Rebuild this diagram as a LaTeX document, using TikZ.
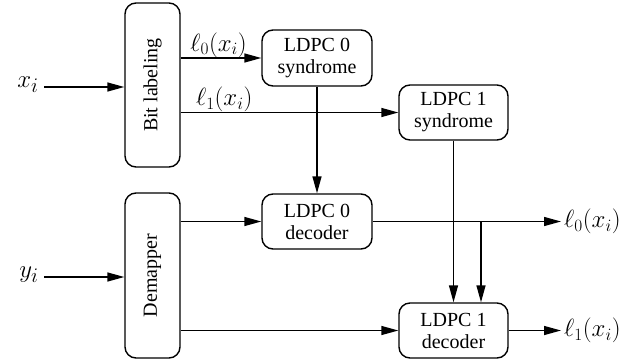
\documentclass[tikz,border=0pt]{standalone}
\usepackage{fontspec}
\setmainfont{Liberation Serif}
\usetikzlibrary{arrows.meta}
\begin{document}
\begin{tikzpicture}[x=1pt,y=-1pt,
  blk/.style={draw,line width=1.4pt,rounded corners=11pt,align=center,inner sep=0pt,font=\fontsize{20}{22}\selectfont},
  arr/.style={line width=1.4pt,-{Triangle[length=17pt,width=9pt]}},
  lbl/.style={font=\fontsize{24}{26}\selectfont,inner sep=1pt},
  inlbl/.style={font=\fontsize{29}{30}\selectfont,inner sep=1pt}]
\useasboundingbox (0,0) rectangle (634,362);
\node[blk,minimum width=55pt,minimum height=164pt] (bit) at (152.5,85) {};
\node[rotate=90,font=\fontsize{20}{22}\selectfont] at (bit.center) {Bit labeling};
\node[blk,minimum width=55pt,minimum height=165pt] (dem) at (152.5,275.5) {};
\node[rotate=90,font=\fontsize{20}{22}\selectfont] at (dem.center) {Demapper};
\node[blk,minimum width=110pt,minimum height=56pt] (s0) at (317,58) {LDPC 0\\syndrome};
\node[blk,minimum width=109pt,minimum height=55pt] (s1) at (453.5,112.5) {LDPC 1\\syndrome};
\node[blk,minimum width=110pt,minimum height=55pt] (d0) at (317,221.5) {LDPC 0\\decoder};
\node[blk,minimum width=109pt,minimum height=55pt] (d1) at (453.5,330.5) {LDPC 1\\decoder};
\node[inlbl] (xi) at (28,85) {$x_i$};
\node[inlbl] (yi) at (29,275) {$y_i$};
\coordinate (xs) at (44,87);
\coordinate (ys) at (44,277);
\draw[arr] (xs) -- (xs -| bit.west);
\draw[arr] (ys) -- (ys -| dem.west);
\draw[arr] (bit.east |- s0.west) -- node[lbl,above,pos=0.47,yshift=-1pt] {$\ell_0(x_i)$} (s0.west);
\draw[arr] (bit.east |- s1.west) -- node[lbl,above,pos=0.2,yshift=-1pt] {$\ell_1(x_i)$} (s1.west);
\draw[arr] (s0.south) -- (d0.north);
\draw[arr] (dem.east |- d0.west) -- (d0.west);
\draw[arr] (dem.east |- d1.west) -- (d1.west);
\draw[arr] (s1.south) -- (s1.south |- d1.north);
\coordinate (o0) at (561,221.5);
\coordinate (o1) at (561,330.5);
\coordinate (br) at (481,221.5);
\draw[arr] (d0.east) -- (o0);
\draw[arr] (br) -- (br |- d1.north);
\draw[arr] (d1.east) -- (o1);
\node[lbl,anchor=west,xshift=2pt] (l0) at (o0) {$\ell_0(x_i)$};
\node[lbl,anchor=west,xshift=2pt] (l1) at (o1) {$\ell_1(x_i)$};
\end{tikzpicture}
\end{document}
